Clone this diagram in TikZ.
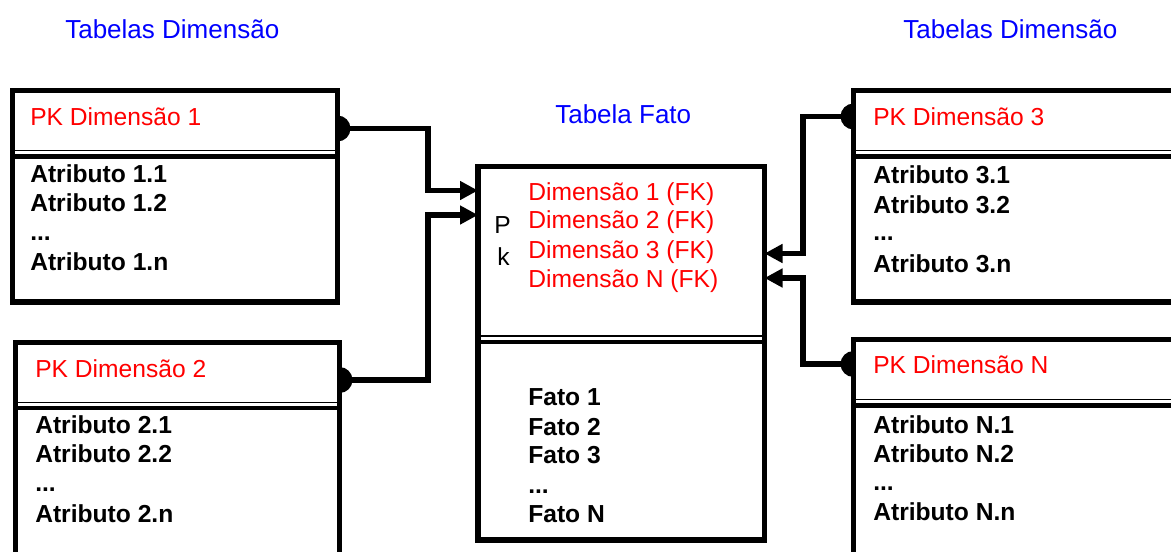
\documentclass[tikz,border=0pt]{standalone}
\usepackage{fontspec}
\setmainfont{Liberation Sans}
\usetikzlibrary{arrows.meta,backgrounds,fit}

\begin{document}
\begin{tikzpicture}[x=0.025cm,y=-0.025cm,
  every node/.style={font=\fontsize{17.5}{21}\selectfont},
  tabela/.style={draw,line width=4pt,fill=white,inner sep=0},
  txt/.style={anchor=base west,inner sep=0},
  titulo/.style={txt,text=blue,font=\fontsize{18.5}{22}\selectfont},
  pk/.style={txt,text=red},
  attr/.style={txt,font=\fontsize{17.5}{21}\selectfont\bfseries},
  fino/.style={line width=1pt},
  grosso/.style={line width=3pt},
  lig/.style={line width=4pt,-{Triangle[length=12.8pt,width=12.8pt]}}]
\useasboundingbox (0,0) rectangle (1171,552);
\clip (0,0) rectangle (1171,552);
% titles
\node[titulo] (tit1) at (65,38) {Tabelas Dimensão};
\node[titulo] (tit2) at (903,38) {Tabelas Dimensão};
\node[titulo] (tit3) at (555,123) {Tabela Fato};
% tables
\node[tabela,fit={(12.5,90.5) (337.5,302)}] (dim1) {};
\node[tabela,fit={(15.5,342.5) (339.5,600)}] (dim2) {};
\node[tabela,fit={(478,166.5) (764.5,540)}] (fato) {};
\node[tabela,fit={(853.5,90.5) (1200,302)}] (dim3) {};
\node[tabela,fit={(853.5,339.5) (1200,600)}] (dimN) {};
% double lines under the keys
\draw[fino] (12.5,150.5)--(337.5,150.5);
\draw[grosso] (12.5,156.5)--(337.5,156.5);
\draw[fino] (15.5,402.5)--(339.5,402.5);
\draw[grosso] (15.5,408)--(339.5,408);
\draw[fino] (478,336)--(764.5,336);
\draw[grosso] (478,342)--(764.5,342);
\draw[fino] (853.5,150.5)--(1200,150.5);
\draw[grosso] (853.5,156.5)--(1200,156.5);
\draw[fino] (853.5,399.5)--(1200,399.5);
\draw[grosso] (853.5,405.5)--(1200,405.5);
% dimension 1
\node[pk] (pk1txt) at (30,125) {PK Dimensão 1};
\node[attr] (a11) at (30,182) {Atributo 1.1};
\node[attr] (a12) at (30,211) {Atributo 1.2};
\node[attr] (a1d) at (30,240) {...};
\node[attr] (a1n) at (30,270) {Atributo 1.n};
% dimension 2
\node[pk] (pk2txt) at (35,377) {PK Dimensão 2};
\node[attr] (a21) at (35,433) {Atributo 2.1};
\node[attr] (a22) at (35,462) {Atributo 2.2};
\node[attr] (a2d) at (35,491) {...};
\node[attr] (a2n) at (35,522) {Atributo 2.n};
% fact table
\node[pk] (fk1txt) at (528,200) {Dimensão 1 (FK)};
\node[pk] (fk2txt) at (528,228) {Dimensão 2 (FK)};
\node[pk] (fk3txt) at (528,258) {Dimensão 3 (FK)};
\node[pk] (fk4txt) at (528,287) {Dimensão N (FK)};
\node[txt] (chP) at (494,233) {P};
\node[txt] (chk) at (497,265) {k};
\node[attr] (f1) at (528,405) {Fato 1};
\node[attr] (f2) at (528,435) {Fato 2};
\node[attr] (f3) at (528,463) {Fato 3};
\node[attr] (fd) at (528,493) {...};
\node[attr] (fN) at (528,522) {Fato N};
% dimension 3
\node[pk] (pk3txt) at (873,125) {PK Dimensão 3};
\node[attr] (a31) at (873,183) {Atributo 3.1};
\node[attr] (a32) at (873,213) {Atributo 3.2};
\node[attr] (a3d) at (873,240) {...};
\node[attr] (a3n) at (873,272) {Atributo 3.n};
% dimension N
\node[pk] (pkNtxt) at (873,373) {PK Dimensão N};
\node[attr] (aN1) at (873,433) {Atributo N.1};
\node[attr] (aN2) at (873,462) {Atributo N.2};
\node[attr] (aNd) at (873,490) {...};
\node[attr] (aNn) at (873,520) {Atributo N.n};
% links, behind the tables
\coordinate (pk1) at (337.5,128.5);
\coordinate (pk2) at (339.5,380);
\coordinate (pk3) at (853.5,116.5);
\coordinate (pk4) at (853.5,364);
\coordinate (fk1) at (478,190.5);
\coordinate (fk2) at (478,215);
\coordinate (fk3) at (764.5,253.5);
\coordinate (fk4) at (764.5,278);
\begin{scope}[on background layer]
\draw[lig] (pk1) -| (428,190.5) -- (fk1);
\draw[lig] (pk2) -| (428,215) -- (fk2);
\draw[lig] (pk3) -| (803,253.5) -- (fk3);
\draw[lig] (pk4) -| (803,278) -- (fk4);
\fill (pk1) circle (13);
\fill (pk2) circle (13);
\fill (pk3) circle (13);
\fill (pk4) circle (13);
\end{scope}
\end{tikzpicture}
\end{document}
